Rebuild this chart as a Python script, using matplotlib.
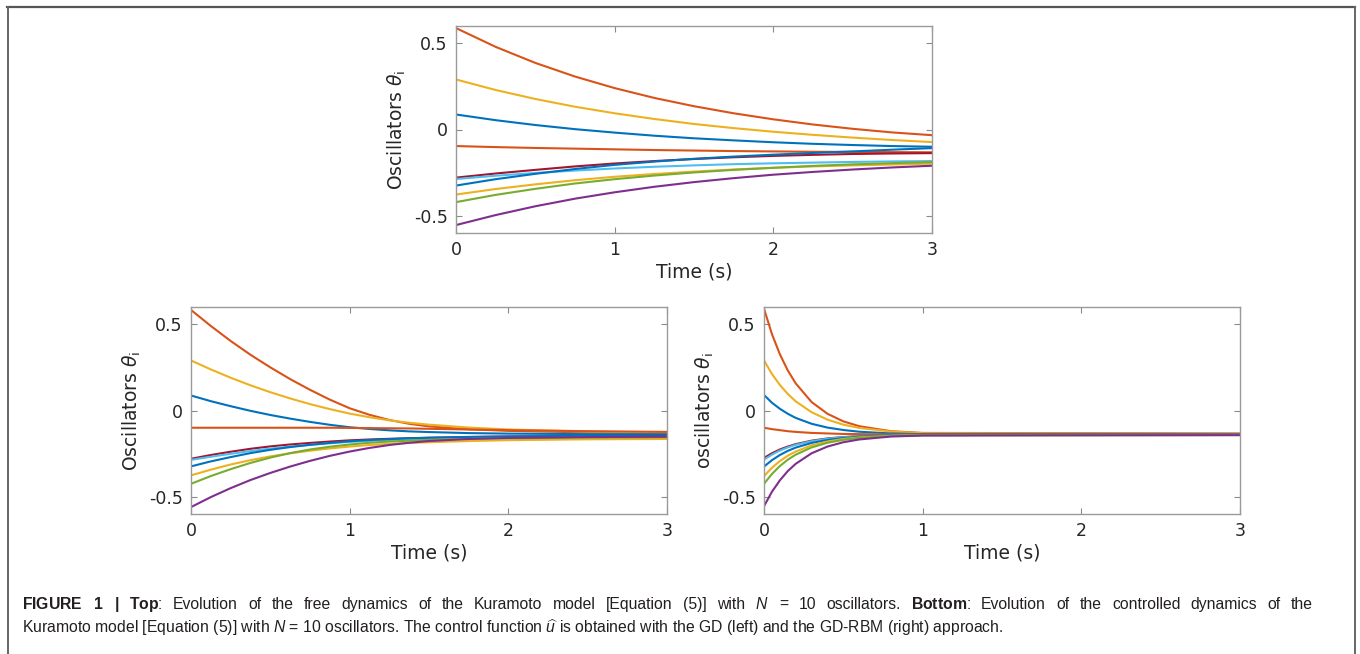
import matplotlib
matplotlib.use("Agg")
import matplotlib.pyplot as plt
from matplotlib.lines import Line2D

# MATLAB default colour order
C_BLUE = "#0072BD"; C_ORANGE = "#D95319"; C_YELLOW = "#EDB120"; C_PURPLE = "#7E2F8E"
C_GREEN = "#77AC30"; C_LBLUE = "#4DBEEE"; C_DRED = "#A2142F"
colors = [C_ORANGE, C_YELLOW, C_BLUE, C_ORANGE, C_DRED, C_LBLUE, C_BLUE, C_YELLOW, C_GREEN, C_PURPLE]

# ---- Top: free dynamics ----
t_free = [0, 0.25, 0.5, 0.75, 1, 1.25, 1.5, 1.75, 2, 2.25, 2.5, 2.75, 3]
free_orange1 = [0.588, 0.479, 0.386, 0.307, 0.240, 0.183, 0.135, 0.094, 0.059, 0.029, 0.004, -0.017, -0.033]
free_yellow1 = [0.290, 0.229, 0.177, 0.132, 0.094, 0.061, 0.032, 0.008, -0.013, -0.031, -0.047, -0.061, -0.073]
free_blue1 = [0.087, 0.054, 0.026, 0.002, -0.018, -0.036, -0.051, -0.063, -0.074, -0.083, -0.090, -0.096, -0.100]
free_orange2 = [-0.096, -0.102, -0.107, -0.111, -0.115, -0.119, -0.122, -0.125, -0.127, -0.129, -0.130, -0.131, -0.132]
free_dred = [-0.279, -0.255, -0.234, -0.214, -0.197, -0.183, -0.171, -0.161, -0.153, -0.147, -0.142, -0.139, -0.137]
free_lblue = [-0.287, -0.268, -0.252, -0.238, -0.226, -0.216, -0.208, -0.201, -0.196, -0.192, -0.188, -0.185, -0.183]
free_blue2 = [-0.325, -0.288, -0.257, -0.229, -0.205, -0.186, -0.170, -0.157, -0.146, -0.136, -0.127, -0.117, -0.108]
free_yellow2 = [-0.377, -0.345, -0.318, -0.294, -0.274, -0.258, -0.244, -0.232, -0.222, -0.214, -0.208, -0.203, -0.198]
free_green = [-0.421, -0.379, -0.344, -0.313, -0.288, -0.267, -0.249, -0.234, -0.222, -0.211, -0.202, -0.195, -0.189]
free_purple = [-0.554, -0.496, -0.445, -0.401, -0.364, -0.332, -0.305, -0.282, -0.262, -0.246, -0.232, -0.220, -0.210]
free_series = [free_orange1, free_yellow1, free_blue1, free_orange2, free_dred,
               free_lblue, free_blue2, free_yellow2, free_green, free_purple]

# ---- Bottom left: GD control ----
t_gd = [0, 0.125, 0.25, 0.375, 0.5, 0.625, 0.75, 0.875, 1, 1.125, 1.25, 1.375, 1.5, 1.75, 2, 2.5, 3]
gd_orange1 = [0.583, 0.490, 0.403, 0.323, 0.250, 0.182, 0.120, 0.063, 0.013, -0.025, -0.055, -0.077, -0.092, -0.109, -0.118, -0.127, -0.130]
gd_yellow1 = [0.290, 0.238, 0.190, 0.146, 0.106, 0.070, 0.037, 0.008, -0.018, -0.039, -0.057, -0.071, -0.082, -0.099, -0.110, -0.122, -0.128]
gd_blue1 = [0.087, 0.054, 0.025, -0.002, -0.026, -0.047, -0.066, -0.083, -0.097, -0.107, -0.115, -0.121, -0.125, -0.131, -0.134, -0.137, -0.138]
gd_orange2 = [-0.100, -0.100, -0.100, -0.100, -0.100, -0.100, -0.100, -0.100, -0.101, -0.102, -0.103, -0.104, -0.106, -0.110, -0.114, -0.120, -0.124]
gd_dred = [-0.280, -0.258, -0.239, -0.222, -0.208, -0.197, -0.188, -0.180, -0.173, -0.168, -0.164, -0.161, -0.158, -0.154, -0.151, -0.148, -0.146]
gd_lblue = [-0.286, -0.268, -0.251, -0.235, -0.221, -0.209, -0.199, -0.190, -0.182, -0.176, -0.171, -0.167, -0.164, -0.160, -0.157, -0.155, -0.154]
gd_blue2 = [-0.324, -0.295, -0.270, -0.247, -0.228, -0.212, -0.199, -0.188, -0.178, -0.171, -0.166, -0.161, -0.158, -0.153, -0.150, -0.147, -0.146]
gd_yellow2 = [-0.376, -0.343, -0.313, -0.288, -0.266, -0.248, -0.233, -0.220, -0.209, -0.200, -0.193, -0.188, -0.184, -0.177, -0.172, -0.167, -0.165]
gd_green = [-0.425, -0.380, -0.340, -0.304, -0.273, -0.247, -0.226, -0.210, -0.197, -0.187, -0.180, -0.175, -0.171, -0.165, -0.161, -0.157, -0.155]
gd_purple = [-0.560, -0.502, -0.450, -0.403, -0.362, -0.325, -0.292, -0.263, -0.238, -0.217, -0.200, -0.187, -0.177, -0.165, -0.159, -0.154, -0.152]
gd_series = [gd_orange1, gd_yellow1, gd_blue1, gd_orange2, gd_dred,
             gd_lblue, gd_blue2, gd_yellow2, gd_green, gd_purple]

# ---- Bottom right: GD-RBM control ----
t_rbm = [0, 0.05, 0.1, 0.15, 0.2, 0.3, 0.4, 0.5, 0.6, 0.8, 1.0, 3.0]
rbm_orange1 = [0.590, 0.443, 0.326, 0.232, 0.157, 0.049, -0.019, -0.063, -0.091, -0.120, -0.130, -0.133]
rbm_yellow1 = [0.290, 0.212, 0.148, 0.096, 0.053, -0.010, -0.053, -0.082, -0.101, -0.122, -0.132, -0.136]
rbm_blue1 = [0.090, 0.045, 0.010, -0.019, -0.043, -0.077, -0.099, -0.113, -0.123, -0.133, -0.137, -0.138]
rbm_orange2 = [-0.100, -0.108, -0.114, -0.120, -0.124, -0.130, -0.133, -0.136, -0.137, -0.139, -0.140, -0.140]
rbm_dred = [-0.275, -0.248, -0.226, -0.209, -0.195, -0.175, -0.162, -0.154, -0.149, -0.144, -0.142, -0.141]
rbm_lblue = [-0.285, -0.256, -0.232, -0.214, -0.199, -0.178, -0.164, -0.155, -0.150, -0.144, -0.142, -0.141]
rbm_blue2 = [-0.325, -0.288, -0.258, -0.234, -0.215, -0.188, -0.171, -0.160, -0.152, -0.145, -0.142, -0.141]
rbm_yellow2 = [-0.380, -0.332, -0.293, -0.262, -0.238, -0.202, -0.180, -0.165, -0.156, -0.147, -0.143, -0.142]
rbm_green = [-0.425, -0.368, -0.322, -0.285, -0.256, -0.214, -0.187, -0.170, -0.159, -0.148, -0.143, -0.142]
rbm_purple = [-0.555, -0.471, -0.405, -0.351, -0.309, -0.248, -0.209, -0.184, -0.168, -0.151, -0.145, -0.143]
rbm_series = [rbm_orange1, rbm_yellow1, rbm_blue1, rbm_orange2, rbm_dred,
              rbm_lblue, rbm_blue2, rbm_yellow2, rbm_green, rbm_purple]

x_ticks = [0, 1, 2, 3]
y_ticks = [-0.5, 0, 0.5]
y_tick_labels = ["-0.5", "0", "0.5"]

caption1 = (r"$\bf{FIGURE}$ $\bf{1}$ $\bf{|}$ $\bf{Top}$: Evolution of the free dynamics of the Kuramoto model "
            r"[Equation (5)] with $N$ = 10 oscillators. $\bf{Bottom}$: Evolution of the controlled dynamics of the")
caption2 = (r"Kuramoto model [Equation (5)] with $N$ = 10 oscillators. The control function "
            r"$\widehat{u}$ is obtained with the GD (left) and the GD-RBM (right) approach.")

plt.rcParams["font.family"] = "DejaVu Sans"
plt.rcParams["mathtext.fontset"] = "custom"
plt.rcParams["mathtext.rm"] = "Liberation Sans"
plt.rcParams["mathtext.it"] = "Liberation Sans:italic"
plt.rcParams["mathtext.bf"] = "Liberation Sans:bold"

W, H = 1360, 654
fig = plt.figure(figsize=(W / 100, H / 100), dpi=100)

def px_axes(x0, y0, x1, y1):
    return fig.add_axes([x0 / W, 1 - y1 / H, (x1 - x0) / W, (y1 - y0) / H])

def style(ax, ylabel):
    ax.set_xlim(0, 3)
    ax.set_ylim(-0.6, 0.6)
    ax.set_xticks(x_ticks)
    ax.set_yticks(y_ticks)
    ax.set_yticklabels(y_tick_labels)
    ax.tick_params(direction="in", top=True, right=True, length=4, width=0.8,
                   colors="#8a8a8a", labelcolor="#262626", labelsize=12.5, pad=6)
    for s in ax.spines.values():
        s.set_color("#9a9a9a")
        s.set_linewidth(1.0)
    ax.set_xlabel("Time (s)", fontsize=13.5, color="#262626", labelpad=2)
    ax.set_ylabel(ylabel, fontsize=13.5, color="#262626", labelpad=4)

def draw(ax, t, series):
    for ys, c in zip(series, colors):
        ax.plot(t, ys, color=c, lw=1.5, solid_joinstyle="round", solid_capstyle="round")

ax_top = px_axes(456, 26, 932, 233)
draw(ax_top, t_free, free_series)
style(ax_top, r"Oscillators $\theta_{\rm i}$")

ax_bl = px_axes(191, 307, 667, 514)
draw(ax_bl, t_gd, gd_series)
style(ax_bl, r"Oscillators $\theta_{\rm i}$")

ax_br = px_axes(764, 307, 1240, 514)
draw(ax_br, t_rbm, rbm_series)
style(ax_br, r"oscillators $\theta_{\rm i}$")

for a in (ax_top, ax_bl, ax_br):
    a.yaxis.label.set_math_fontfamily("dejavusans")

# frame around figure panel
fx = lambda x: x / W
fy = lambda y: 1 - y / H
fig.add_artist(Line2D([fx(7), fx(1355)], [fy(6.5), fy(6.5)], color="#555555", lw=1.6))
fig.add_artist(Line2D([fx(7.5), fx(7.5)], [fy(6.5), fy(660)], color="#666666", lw=1.4))
fig.add_artist(Line2D([fx(1355), fx(1355)], [fy(6.5), fy(660)], color="#666666", lw=1.4))

cap_kw = dict(fontsize=11.3, family="Liberation Sans", va="baseline", color="#231f20")

# justified first line
renderer = fig.canvas.get_renderer()
words = caption1.split(" ")
x_left, x_right = 22, 1313
texts = [fig.text(0, fy(609), w, **cap_kw) for w in words]
widths = [t.get_window_extent(renderer).width for t in texts]
gap = (x_right - x_left - sum(widths)) / (len(words) - 1)
x = x_left
for t, w in zip(texts, widths):
    t.set_x(fx(x))
    x += w + gap

fig.text(fx(22), fy(633), caption2, **cap_kw)

fig.savefig("out.png", dpi=100, facecolor="white")
